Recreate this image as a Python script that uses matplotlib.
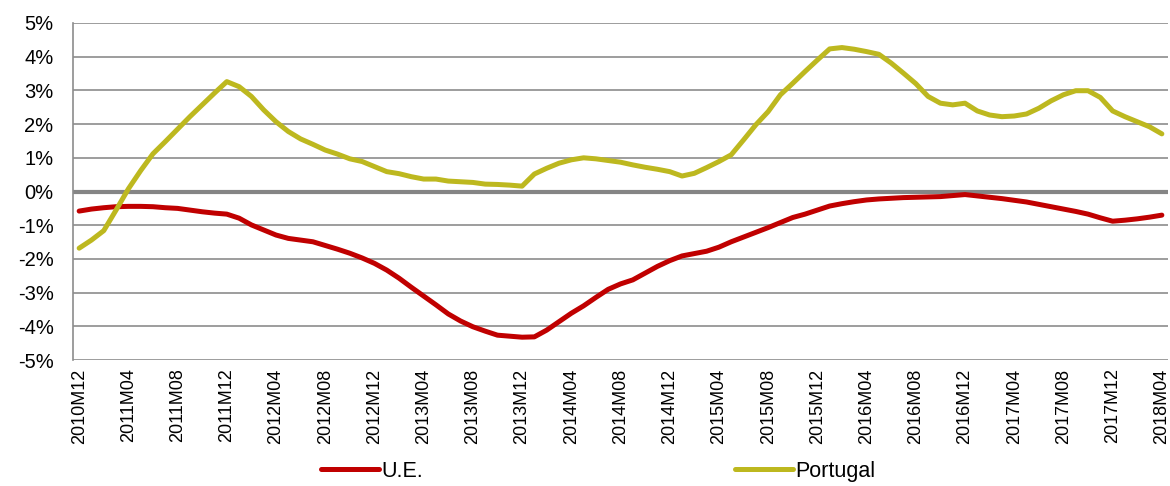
import matplotlib
matplotlib.use("Agg")
import matplotlib.pyplot as plt
from matplotlib.ticker import FuncFormatter

plt.rcParams['font.family'] = ['Liberation Sans', 'DejaVu Sans']

# monthly values, 2010M12 .. 2018M04 (%)
ue = [-0.58, -0.52, -0.48, -0.45, -0.44, -0.44, -0.45, -0.48, -0.50, -0.55,
      -0.60, -0.64, -0.67, -0.79, -0.99, -1.14, -1.29, -1.39, -1.44, -1.49,
      -1.60, -1.71, -1.83, -1.97, -2.13, -2.33, -2.57, -2.84, -3.10, -3.36,
      -3.63, -3.84, -4.01, -4.14, -4.26, -4.29, -4.32, -4.31, -4.11, -3.86,
      -3.61, -3.39, -3.14, -2.90, -2.74, -2.62, -2.42, -2.22, -2.05, -1.91,
      -1.84, -1.77, -1.65, -1.49, -1.35, -1.21, -1.07, -0.92, -0.77, -0.67,
      -0.55, -0.43, -0.36, -0.30, -0.25, -0.22, -0.20, -0.18, -0.17, -0.16,
      -0.15, -0.12, -0.09, -0.13, -0.17, -0.21, -0.26, -0.31, -0.38, -0.45,
      -0.52, -0.59, -0.67, -0.78, -0.88, -0.85, -0.81, -0.76, -0.70]

portugal = [-1.68, -1.44, -1.16, -0.55, 0.08, 0.62, 1.12, 1.48, 1.85, 2.22,
            2.57, 2.92, 3.26, 3.11, 2.82, 2.42, 2.07, 1.78, 1.56, 1.40,
            1.23, 1.11, 0.97, 0.89, 0.74, 0.59, 0.53, 0.44, 0.37, 0.37,
            0.31, 0.29, 0.27, 0.22, 0.21, 0.19, 0.16, 0.52, 0.69, 0.84,
            0.94, 1.00, 0.97, 0.92, 0.87, 0.79, 0.72, 0.66, 0.59, 0.46,
            0.54, 0.71, 0.89, 1.09, 1.53, 1.98, 2.37, 2.87, 3.21, 3.56,
            3.90, 4.23, 4.27, 4.22, 4.15, 4.07, 3.81, 3.51, 3.20, 2.82,
            2.62, 2.57, 2.62, 2.39, 2.27, 2.22, 2.24, 2.30, 2.47, 2.69,
            2.87, 2.99, 2.99, 2.79, 2.39, 2.22, 2.07, 1.92, 1.71]

tick_labels = ["2010M12", "2011M04", "2011M08", "2011M12", "2012M04", "2012M08",
               "2012M12", "2013M04", "2013M08", "2013M12", "2014M04", "2014M08",
               "2014M12", "2015M04", "2015M08", "2015M12", "2016M04", "2016M08",
               "2016M12", "2017M04", "2017M08", "2017M12", "2018M04"]

x = list(range(len(ue)))

fig = plt.figure(figsize=(11.7, 4.86), dpi=100)
ax = fig.add_axes([0.0624, 0.259, 0.9359, 0.6938])

grid_col = '#8c8c8c'
for v in range(-5, 6):
    if v == 0:
        continue
    ax.axhline(v, color=grid_col, lw=1.2, zorder=1)
ax.axhline(0, color='#858585', lw=3.0, zorder=1)

ax.plot(x, ue, color='#C00000', lw=3.6, solid_capstyle='round', label='U.E.', zorder=3)
ax.plot(x, portugal, color='#BDB81F', lw=3.6, solid_capstyle='round', label='Portugal', zorder=3)

ax.set_xlim(-0.5, len(ue) - 0.5)
ax.set_ylim(-5, 5)
ax.set_yticks(range(-5, 6))
ax.yaxis.set_major_formatter(FuncFormatter(lambda v, p: '{:d}%'.format(int(round(v)))))
ax.set_xticks(range(0, len(ue), 4))
ax.set_xticklabels(tick_labels, rotation=90, fontsize=13)
ax.tick_params(axis='y', length=0, pad=14, labelsize=14.5)
ax.tick_params(axis='x', length=0, pad=6)

for s in ['top', 'right', 'bottom']:
    ax.spines[s].set_visible(False)
ax.spines['left'].set_color(grid_col)
ax.spines['left'].set_linewidth(1.2)

fig.legend(loc='center', bbox_to_anchor=(598 / 1170, 1 - 471 / 486), ncol=2,
           frameon=False, fontsize=15.5, handlelength=2.7, handletextpad=0.1,
           columnspacing=14.5)

fig.savefig('out.png', dpi=100)
